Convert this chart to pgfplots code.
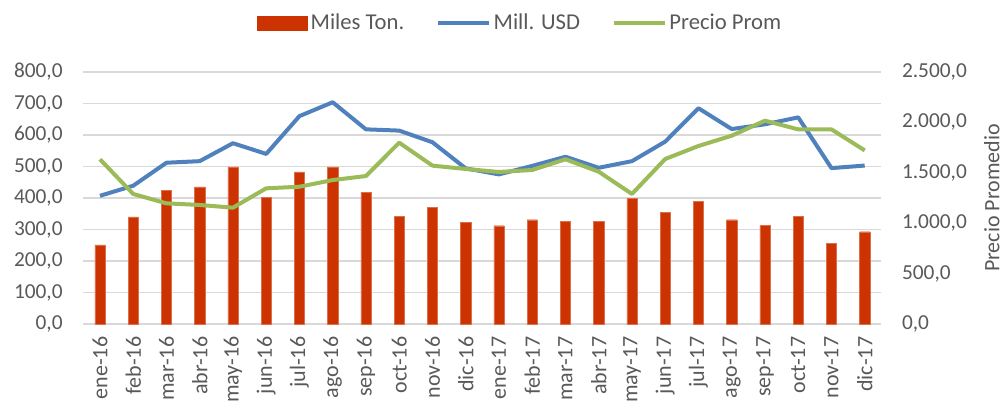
\documentclass[border=0pt]{standalone}
\usepackage{pgfplots}
\pgfplotsset{compat=1.18}
\usepackage{pgfplotstable}
\usepackage{fontspec}
\setmainfont{Carlito}

\definecolor{barred}{HTML}{CC3300}
\definecolor{usdblue}{HTML}{4F81BD}
\definecolor{precgreen}{HTML}{9BBB59}
\definecolor{txtgray}{HTML}{595959}
\definecolor{gridgray}{HTML}{D9D9D9}

% x  tons  usd  precio
\pgfplotstableread{
x  tons  usd  precio
0  251   407  1634
1  340   439  1290
2  425   512  1197
3  435   517  1181
4  499   574  1154
5  402   540  1346
6  483   660  1362
7  499   704  1428
8  418   618  1468
9  341   614  1799
10 370   577  1571
11 322   494  1538
12 312   475  1508
13 331   502  1528
14 326   531  1634
15 326   496  1511
16 398   517  1290
17 355   579  1637
18 389   685  1766
19 331   619  1868
20 313   634  2017
21 342   656  1931
22 256   495  1931
23 293   503  1722
}\datos

\pgfplotsset{
  base/.style={
    width=598.5pt, height=189pt, scale only axis,
    xmin=-0.5, xmax=23.5,
    xtick={0,...,23},
    xticklabels={ene-16,feb-16,mar-16,abr-16,may-16,jun-16,jul-16,ago-16,sep-16,oct-16,nov-16,dic-16,
                 ene-17,feb-17,mar-17,abr-17,may-17,jun-17,jul-17,ago-17,sep-17,oct-17,nov-17,dic-17},
    major tick length=0pt,
    tick label style={font=\fontsize{16}{19}\selectfont, text=txtgray},
    label style={font=\fontsize{16.5}{19}\selectfont, text=txtgray},
    /pgf/number format/assume math mode=true,
    /pgf/number format/.cd, use comma, 1000 sep={.}, fixed, fixed zerofill, precision=1,
  },
}

\begin{document}
\begin{tikzpicture}
\begin{axis}[
  base,
  ymin=0, ymax=800, ytick={0,100,...,800},
  axis y line*=left, axis x line*=bottom,
  y axis line style={draw=none},
  x axis line style={draw=gridgray, line width=0.8pt},
  ymajorgrids, grid style={gridgray, line width=0.8pt},
  xticklabel style={rotate=90, anchor=east, xshift=-6pt, font=\fontsize{16.5}{19}\selectfont},
  yticklabel style={xshift=-12pt},
]
  \addplot[ybar, bar width=7.8pt, fill=barred, draw=barred!70!white, line width=0.3pt]
    table[x=x, y=tons] {\datos};
  \addplot[usdblue, line width=3pt, line join=round, mark=none]
    table[x=x, y=usd] {\datos};
\end{axis}
\begin{axis}[
  base,
  ymin=0, ymax=2500, ytick={0,500,...,2500},
  axis y line*=right, axis x line=none,
  y axis line style={draw=none},
  xticklabels={},
  yticklabel style={xshift=12pt},
  ylabel={Precio Promedio},
  ylabel style={yshift=-6pt},
  legend columns=3,
  legend style={at={(0.548,1.194)}, anchor=center, draw=none, fill=none,
    font=\fontsize{17}{20}\selectfont, text=txtgray,
    /tikz/every even column/.append style={column sep=22pt}},
  legend cell align=left,
]
  \addlegendimage{legend image code/.code={\fill[barred] (0pt,-5.25pt) rectangle (37.5pt,5.25pt);}}
  \addlegendentry{Miles Ton.}
  \addlegendimage{legend image code/.code={\draw[usdblue, line width=3pt] (0pt,0pt) -- (38pt,0pt);}}
  \addlegendentry{Mill. USD}
  \addplot[precgreen, line width=3pt, line join=round, mark=none,
    legend image code/.code={\draw[precgreen, line width=3pt] (0pt,0pt) -- (38pt,0pt);}]
    table[x=x, y=precio] {\datos};
  \addlegendentry{Precio Prom}
\end{axis}
\path[use as bounding box] (-62.5pt,-59.25pt) rectangle (692pt,243pt);
\end{tikzpicture}
\end{document}
